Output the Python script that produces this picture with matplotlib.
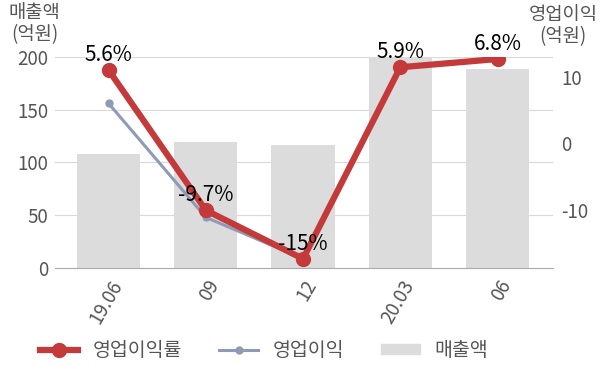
import matplotlib
matplotlib.use('Agg')
import matplotlib.pyplot as plt
from matplotlib.lines import Line2D
from matplotlib.patches import Patch

plt.rcParams['font.family'] = ['Noto Sans CJK KR', 'DejaVu Sans']
plt.rcParams['axes.unicode_minus'] = False

categories = ['19.06', '09', '12', '20.03', '06']
revenue = [108, 119, 117, 200, 189]
op_profit = [6.0, -11.1, -17.3, 11.5, 12.7]
op_margin = [5.6, -9.7, -15, 5.9, 6.8]
margin_labels = ['5.6%', '-9.7%', '-15%', '5.9%', '6.8%']

red = '#c43a3a'
blue = '#8f9bb6'
grey_bar = '#dcdcdc'
txt = '#555555'

fig = plt.figure(figsize=(6, 3.83), dpi=100)
ax = fig.add_axes([0.0917, 0.3003, 0.83, 0.5509])
x = range(len(categories))

ax.bar(x, revenue, width=0.65, color=grey_bar, zorder=1)
ax.set_ylim(0, 200)
ax.set_yticks([0, 50, 100, 150, 200])
ax.set_axisbelow(True)
ax.grid(axis='y', color='#d9d9d9', linewidth=0.8)
for s in ['top', 'right', 'left']:
    ax.spines[s].set_visible(False)
ax.spines['bottom'].set_color('#aaaaaa')
ax.tick_params(axis='y', length=0, labelsize=13.5, colors=txt, pad=5)
ax.tick_params(axis='x', length=0, labelsize=13.5, colors=txt, pad=6)
ax.set_xticks(list(x))
ax.set_xticklabels(categories, rotation=60, ha='right', rotation_mode='anchor')

ax2 = ax.twinx()
ax2.plot(x, op_profit, color=blue, linewidth=2.2, marker='o', markersize=5)
ax2.set_ylim(-18.7, 12.95)
ax2.set_yticks([-10, 0, 10])
ax2.tick_params(axis='y', length=0, labelsize=13.5, colors=txt, pad=6)
for s in ax2.spines.values():
    s.set_visible(False)

ax3 = ax.twinx()
ax3.plot(x, op_margin, color=red, linewidth=4.5, marker='o', markersize=10)
ax3.set_ylim(-16, 7.02)
ax3.axis('off')
for xi, v, lab in zip(x, op_margin, margin_labels):
    ax3.annotate(lab, (xi, v), xytext=(0, 11), textcoords='offset points',
                 ha='center', va='center', fontsize=15, color='black')

ax.set_xlim(-0.55, 4.57)

fig.text(0.058, 0.995, '매출액\n(억원)', ha='center', va='top', fontsize=13.5,
         color=txt, linespacing=1.05)
fig.text(0.938, 0.99, '영업이익\n(억원)', ha='center', va='top', fontsize=13.5,
         color=txt, linespacing=1.05)

handles = [
    Line2D([], [], color=red, linewidth=4.5, marker='o', markersize=10),
    Line2D([], [], color=blue, linewidth=2.2, marker='o', markersize=5),
    Patch(color=grey_bar),
]
fig.legend(handles, ['영업이익률', '영업이익', '매출액'], loc='center',
           bbox_to_anchor=(0.44, 0.086), ncol=3, frameon=False, fontsize=14,
           handlelength=2.0, handletextpad=0.75, columnspacing=1.9,
           handleheight=0.4, labelcolor=txt)

fig.savefig('out.png', dpi=100)
